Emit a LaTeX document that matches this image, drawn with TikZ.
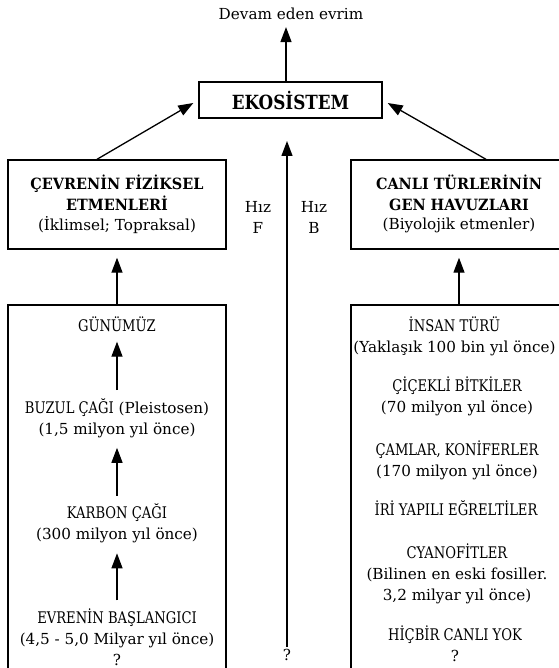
\documentclass[tikz,border=0pt]{standalone}
\usepackage{fontspec}
\setmainfont{DejaVu Serif}
\newfontfamily\capsfont{DejaVu Serif}[FakeStretch=0.82]
\newfontfamily\headfont{DejaVu Serif}[FakeStretch=0.93]
\newfontfamily\ekofont{DejaVu Serif}[FakeStretch=0.86]
\usetikzlibrary{arrows.meta}
\newcommand\kp[1]{{\fontsize{16}{21}\capsfont #1}}
\begin{document}
\begin{tikzpicture}[x=1pt,y=-1pt,
  txt/.style={font=\fontsize{15.2}{21}\selectfont, align=center, inner sep=0pt},
  hd/.style={font=\fontsize{15.5}{21}\selectfont\headfont\bfseries, align=center, inner sep=0pt},
  panel/.style={draw, line width=1.4pt, rectangle, inner sep=0pt},
  arr/.style={line width=1.3pt, -{Triangle[length=15pt,width=11pt]}},
]
\useasboundingbox (0,0) rectangle (558,668);

% top level
\node[txt] (evrim) at (291,14) {Devam eden evrim};
\node[panel, minimum width=183pt, minimum height=36pt,
      font=\fontsize{19.5}{21}\selectfont\ekofont\bfseries] (eko) at (290.5,100) {EKOSİSTEM};

% middle boxes
\node[panel, minimum width=218pt, minimum height=89pt] (fiz) at (117,204.5) {};
\node[hd] at (117,193) {ÇEVRENİN FİZİKSEL\\ETMENLERİ};
\node[txt] at (117,225) {(İklimsel; Topraksal)};

\node[panel, minimum width=216pt, minimum height=89pt] (gen) at (459,204.5) {};
\node[hd] at (459,193) {CANLI TÜRLERİNİN\\GEN HAVUZLARI};
\node[txt] at (459,225) {(Biyolojik etmenler)};

\node[txt] (hizf) at (258,217) {Hız\\F};
\node[txt] (hizb) at (314,217) {Hız\\B};

% lower boxes, running past the bottom edge
\node[panel, minimum width=218pt, minimum height=400pt] (jeo) at (117,505) {};
\node[panel, minimum width=216pt, minimum height=400pt] (bio) at (459,505) {};

% geological time line
\node[txt] (gun) at (117,324) {\kp{GÜNÜMÜZ}};
\node[txt] (buz) at (117,418) {\kp{BUZUL ÇAĞI} (Pleistosen)\\(1,5 milyon yıl önce)};
\node[txt] (kar) at (117,523.5) {\kp{KARBON ÇAĞI}\\(300 milyon yıl önce)};
\node[txt] (evr) at (117,637) {\kp{EVRENİN BAŞLANGICI}\\(4,5 - 5,0 Milyar yıl önce)\\?};

% living things
\node[txt] (ins) at (454.5,336) {\kp{İNSAN TÜRÜ}\\(Yaklaşık 100 bin yıl önce)};
\node[txt] (cic) at (457,396.5) {\kp{ÇİÇEKLİ BİTKİLER}\\(70 milyon yıl önce)};
\node[txt] (cam) at (457,460) {\kp{ÇAMLAR, KONİFERLER}\\(170 milyon yıl önce)};
\node[txt] (iri) at (456,508) {\kp{İRİ YAPILI EĞRELTİLER}};
\node[txt] (cya) at (457,574) {\kp{CYANOFİTLER}\\(Bilinen en eski fosiller.\\3,2 milyar yıl önce)};
\node[txt] (hic) at (455,644) {\kp{HİÇBİR CANLI YOK}\\?};

% central axis
\node[txt] (q) at (287,655) {?};
\coordinate (ctip) at (287,141);

% connectors
\draw[arr] ([xshift=-4.5pt]eko.north) -- ([xshift=-5pt,yshift=-7pt]evrim.south);
\draw[arr] ([xshift=-20pt]fiz.north) -- ([xshift=-5pt,yshift=-3pt]eko.west);
\draw[arr] ([xshift=27pt]gen.north) -- ([xshift=5pt,yshift=-3pt]eko.east);
\draw[arr] (jeo.north) -- ([yshift=-8pt]fiz.south);
\draw[arr] (bio.north) -- ([yshift=-8pt]gen.south);
\draw[arr] ([yshift=2pt]q.north) -- (ctip);

\draw[arr] ([yshift=8pt]buz.north) -- ([yshift=-10pt]gun.south);
\draw[arr] ([yshift=8pt]kar.north) -- ([yshift=-10pt]buz.south);
\draw[arr] ([yshift=8pt]evr.north) -- ([yshift=-10pt]kar.south);
\end{tikzpicture}
\end{document}
